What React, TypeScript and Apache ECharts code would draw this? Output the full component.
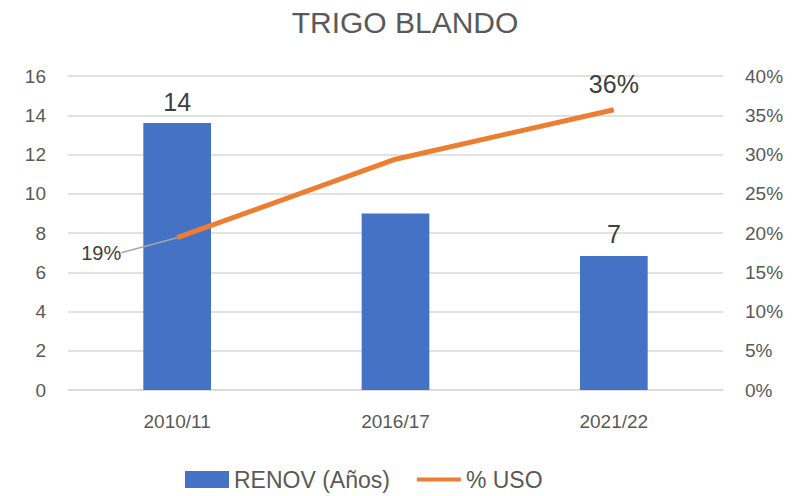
import React, { useEffect, useRef } from "react";
import * as echarts from "echarts";

const categories = ["2010/11", "2016/17", "2021/22"];
const renovValues = [13.6, 9.0, 6.83];
const usoValues = [19.4, 29.4, 35.7];
const renovLabelShown = [true, false, true];
const usoLabelShown = [true, false, true];

const FONT = "'Liberation Sans', 'DejaVu Sans', sans-serif";

export default function App() {
  const ref = useRef<HTMLDivElement>(null);
  useEffect(() => {
    if (!ref.current) return;
    const chart = echarts.init(ref.current, undefined, { renderer: "svg" });
    chart.setOption({
      animation: false,
      backgroundColor: "#ffffff",
      title: {
        text: "TRIGO BLANDO",
        left: "center",
        top: 2,
        textStyle: { fontFamily: FONT, fontSize: 30, fontWeight: "normal", color: "#595959" },
      },
      legend: {
        top: 463,
        left: 180,
        itemWidth: 44,
        itemHeight: 17,
        itemGap: 27,
        textStyle: { fontFamily: FONT, fontSize: 23, color: "#595959" },
        data: [
          { name: "RENOV (Años)", icon: "rect" },
          { name: "% USO", icon: "path://M0,8 L44,8 L44,12 L0,12 Z" },
        ],
      },
      grid: { left: 68, right: 87, top: 76, bottom: 106 },
      xAxis: {
        type: "category",
        data: categories,
        axisTick: { show: false },
        axisLine: { lineStyle: { color: "#d9d9d9", width: 1.5 } },
        axisLabel: { fontFamily: FONT, fontSize: 19, color: "#595959", margin: 22 },
      },
      yAxis: [
        {
          type: "value",
          min: 0,
          max: 16,
          interval: 2,
          axisLine: { show: false },
          axisTick: { show: false },
          splitLine: { lineStyle: { color: "#d9d9d9", width: 1.5 } },
          axisLabel: { fontFamily: FONT, fontSize: 19, color: "#595959", margin: 22 },
        },
        {
          type: "value",
          min: 0,
          max: 40,
          interval: 5,
          position: "right",
          axisLine: { show: false },
          axisTick: { show: false },
          splitLine: { show: false },
          axisLabel: { fontFamily: FONT, fontSize: 19, color: "#595959", margin: 22, formatter: "{value}%" },
        },
      ],
      series: [
        {
          name: "RENOV (Años)",
          type: "bar",
          yAxisIndex: 0,
          barWidth: "31%",
          itemStyle: { color: "#4472c4" },
          data: renovValues.map((v, i) => ({
            value: v,
            label: {
              show: renovLabelShown[i],
              position: "top",
              distance: 9,
              fontFamily: FONT,
              fontSize: 25,
              color: "#404040",
              formatter: (p: any) => String(Math.round(p.value)),
            },
          })),
        },
        {
          name: "% USO",
          type: "line",
          yAxisIndex: 1,
          showSymbol: true,
          symbol: "circle",
          symbolSize: 0.1,
          lineStyle: { color: "#ed7d31", width: 5 },
          itemStyle: { color: "#ed7d31" },
          labelLine: { show: false },
          labelLayout: (p: any) => (p.dataIndex === 0 ? { dx: -76, dy: 38 } : {}),
          data: usoValues.map((v, i) => ({
            value: v,
            labelLine: { show: i === 0, lineStyle: { color: "#a6a6a6", width: 1.5 } },
            label: {
              show: usoLabelShown[i],
              position: "top",
              distance: 13,
              fontFamily: FONT,
              fontSize: i === 0 ? 20 : 25,
              color: "#404040",
              formatter: (p: any) => Math.round(p.value) + "%",
            },
          })),
        },
      ],
    });
    return () => chart.dispose();
  }, []);
  return <div ref={ref} style={{ width: 810, height: 496, position: "absolute", left: 0, top: 0 }} />;
}
